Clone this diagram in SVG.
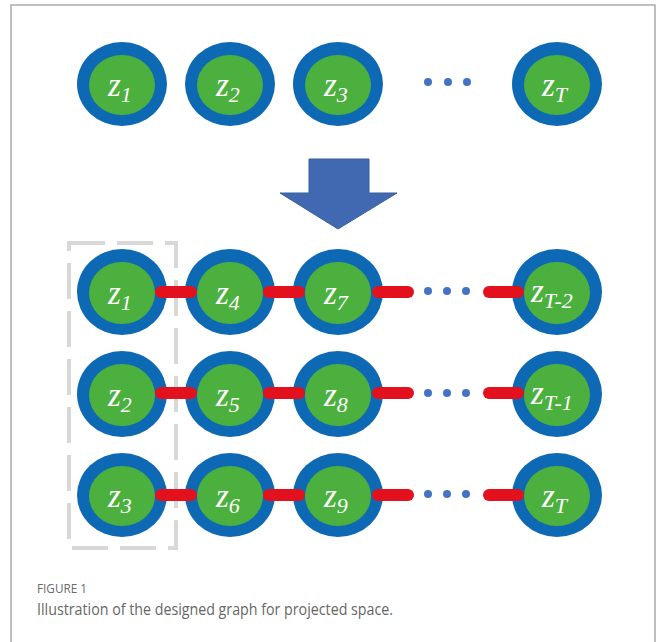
<svg xmlns="http://www.w3.org/2000/svg" width="656" height="642" viewBox="0 0 656 642">
<defs>
<style>
.ring{fill:#0e69b4}
.core{fill:#4cb03e}
.lab{font-family:"Liberation Serif","DejaVu Serif",serif;font-style:italic;fill:#ffffff;font-size:33px}
.sub{font-size:22px}
.edge{stroke:#e3111d;stroke-width:12;stroke-linecap:round;fill:none}
.dot{fill:#4472c4}
.frame{stroke:#ababab;stroke-width:1.5;fill:none}
.box{stroke:#d8d8d8;stroke-width:4;fill:none;stroke-dasharray:36 12}
.cap1{font-family:"Open Sans","Liberation Sans",sans-serif;font-size:12.5px;fill:#6a6a6a}
.cap2{font-family:"Open Sans","Liberation Sans",sans-serif;font-size:16px;fill:#666}
</style>
</defs>
<rect width="656" height="642" fill="#fff"/>
<path class="frame" d="M11,642 V5 H655 V642"/>

<!-- top row -->
<g id="top-z1"><ellipse class="ring" cx="122" cy="84" rx="45" ry="42"/><ellipse class="core" cx="122" cy="85" rx="33" ry="30"/><text class="lab" x="108" y="96">z<tspan class="sub" dy="6">1</tspan></text></g>
<g id="top-z2"><ellipse class="ring" cx="230" cy="84" rx="45" ry="42"/><ellipse class="core" cx="230" cy="85" rx="33" ry="30"/><text class="lab" x="216" y="96">z<tspan class="sub" dy="6">2</tspan></text></g>
<g id="top-z3"><ellipse class="ring" cx="338" cy="84" rx="45" ry="42"/><ellipse class="core" cx="338" cy="85" rx="33" ry="30"/><text class="lab" x="324" y="96">z<tspan class="sub" dy="6">3</tspan></text></g>
<g id="top-dots"><circle class="dot" cx="428" cy="82" r="4"/><circle class="dot" cx="448" cy="82" r="4"/><circle class="dot" cx="467" cy="82" r="4"/></g>
<g id="top-zT"><ellipse class="ring" cx="557" cy="84" rx="45" ry="42"/><ellipse class="core" cx="557" cy="85" rx="33" ry="30"/><text class="lab" x="542" y="96">z<tspan class="sub" dy="6">T</tspan></text></g>

<!-- arrow -->
<g id="arrow"><polygon points="309,159 369,159 369,193 397,193 338,229 280,193 309,193" fill="#4169b1" stroke="#3a5e9e" stroke-width="1"/></g>

<!-- dashed box -->
<g id="group-box"><rect class="box" x="69" y="243" width="107" height="305"/></g>

<g id="z1"><ellipse class="ring" cx="122" cy="292" rx="45" ry="43"/><ellipse class="core" cx="122" cy="293" rx="33" ry="31"/><text class="lab" x="108" y="304">z<tspan class="sub" dy="6">1</tspan></text></g>
<g id="z4"><ellipse class="ring" cx="230" cy="292" rx="45" ry="43"/><ellipse class="core" cx="230" cy="293" rx="33" ry="31"/><text class="lab" x="216" y="304">z<tspan class="sub" dy="6">4</tspan></text></g>
<g id="z7"><ellipse class="ring" cx="338" cy="292" rx="45" ry="43"/><ellipse class="core" cx="338" cy="293" rx="33" ry="31"/><text class="lab" x="324" y="304">z<tspan class="sub" dy="6">7</tspan></text></g>
<g id="zT-2"><ellipse class="ring" cx="557" cy="292" rx="45" ry="43"/><ellipse class="core" cx="557" cy="293" rx="33" ry="31"/><text class="lab" x="531" y="302">z<tspan class="sub" dy="6">T-2</tspan></text></g>

<g id="z2"><ellipse class="ring" cx="122" cy="394" rx="45" ry="43"/><ellipse class="core" cx="122" cy="395" rx="33" ry="31"/><text class="lab" x="108" y="406">z<tspan class="sub" dy="6">2</tspan></text></g>
<g id="z5"><ellipse class="ring" cx="230" cy="394" rx="45" ry="43"/><ellipse class="core" cx="230" cy="395" rx="33" ry="31"/><text class="lab" x="216" y="406">z<tspan class="sub" dy="6">5</tspan></text></g>
<g id="z8"><ellipse class="ring" cx="338" cy="394" rx="45" ry="43"/><ellipse class="core" cx="338" cy="395" rx="33" ry="31"/><text class="lab" x="324" y="406">z<tspan class="sub" dy="6">8</tspan></text></g>
<g id="zT-1"><ellipse class="ring" cx="557" cy="394" rx="45" ry="43"/><ellipse class="core" cx="557" cy="395" rx="33" ry="31"/><text class="lab" x="531" y="404">z<tspan class="sub" dy="6">T-1</tspan></text></g>

<g id="z3"><ellipse class="ring" cx="122" cy="495" rx="45" ry="42"/><ellipse class="core" cx="122" cy="496" rx="33" ry="30"/><text class="lab" x="108" y="507">z<tspan class="sub" dy="6">3</tspan></text></g>
<g id="z6"><ellipse class="ring" cx="230" cy="495" rx="45" ry="42"/><ellipse class="core" cx="230" cy="496" rx="33" ry="30"/><text class="lab" x="216" y="507">z<tspan class="sub" dy="6">6</tspan></text></g>
<g id="z9"><ellipse class="ring" cx="338" cy="495" rx="45" ry="42"/><ellipse class="core" cx="338" cy="496" rx="33" ry="30"/><text class="lab" x="324" y="507">z<tspan class="sub" dy="6">9</tspan></text></g>
<g id="zT"><ellipse class="ring" cx="557" cy="495" rx="45" ry="42"/><ellipse class="core" cx="557" cy="496" rx="33" ry="30"/><text class="lab" x="542" y="507">z<tspan class="sub" dy="6">T</tspan></text></g>

<!-- connectors -->
<g id="connectors">
<line class="edge" x1="161" y1="292" x2="191" y2="292"/>
<line class="edge" x1="269" y1="292" x2="299" y2="292"/>
<line class="edge" x1="378" y1="292" x2="408" y2="292"/>
<line class="edge" x1="489" y1="292" x2="518" y2="292"/>
<line class="edge" x1="161" y1="393" x2="191" y2="393"/>
<line class="edge" x1="269" y1="393" x2="299" y2="393"/>
<line class="edge" x1="378" y1="393" x2="408" y2="393"/>
<line class="edge" x1="489" y1="393" x2="518" y2="393"/>
<line class="edge" x1="161" y1="495" x2="191" y2="495"/>
<line class="edge" x1="269" y1="495" x2="299" y2="495"/>
<line class="edge" x1="378" y1="495" x2="408" y2="495"/>
<line class="edge" x1="489" y1="495" x2="518" y2="495"/>
<circle class="dot" cx="428" cy="291" r="4"/><circle class="dot" cx="447" cy="291" r="4"/><circle class="dot" cx="466" cy="291" r="4"/>
<circle class="dot" cx="428" cy="393" r="4"/><circle class="dot" cx="447" cy="393" r="4"/><circle class="dot" cx="466" cy="393" r="4"/>
<circle class="dot" cx="428" cy="494" r="4"/><circle class="dot" cx="447" cy="494" r="4"/><circle class="dot" cx="466" cy="494" r="4"/>
</g>

<text class="cap1" x="37" y="593" textLength="50" lengthAdjust="spacingAndGlyphs">FIGURE 1</text>
<text class="cap2" x="37" y="615" textLength="356" lengthAdjust="spacingAndGlyphs">Illustration of the designed graph for projected space.</text>
</svg>
